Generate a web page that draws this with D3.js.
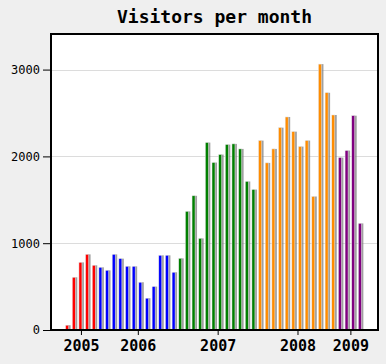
<!DOCTYPE html>
<html>
<head>
<meta charset="utf-8">
<script src="https://cdn.jsdelivr.net/npm/d3@7"></script>
<style>
  body { margin: 0; background: #efefef; }
  .axis text { font-family: "DejaVu Sans Mono", monospace; fill: #000; }
  .axis path { display: none; }
  .chart-title { font-family: "DejaVu Sans Mono", monospace; font-weight: bold; font-size: 18px; }
</style>
</head>
<body>
<svg id="chart"></svg>
<script>
// monthly visitor counts, one bar each
const visitors = [
  55, 607, 779, 871, 745,
  722, 687, 871, 822, 733, 733, 550, 366, 500, 860, 860, 665,
  825, 1366, 1546, 1055, 2159, 1929, 2021, 2136, 2144, 2086, 1711, 1618,
  2182, 1925, 2086, 2331, 2454, 2285, 2113, 2182, 1538, 3063, 2733, 2477,
  1986, 2067, 2469, 1228
];
// colour groups (number of bars in each)
const groupSizes = [5, 12, 12, 12, 4];
const groupColors = ["#ff0000", "#0000ff", "#008000", "#ff8c00", "#800080"];
// year ticks (position in bar index units) and labels
const yearTickPos = [2, 10.55, 22.55, 34.55, 42.5];
const yearLabels = ["2005", "2006", "2007", "2008", "2009"];
const yTicks = [0, 1000, 2000, 3000];

const width = 386, height = 364;
const margin = {top: 34, right: 8, bottom: 34, left: 51};
const innerW = width - margin.left - margin.right;
const innerH = height - margin.top - margin.bottom;

const data = [];
let idx = 0;
groupSizes.forEach((n, g) => {
  for (let k = 0; k < n; k++) {
    data.push({i: idx, value: visitors[idx], color: groupColors[g]});
    idx++;
  }
});

const svg = d3.select("#chart").attr("width", width).attr("height", height);

svg.append("text")
  .attr("class", "chart-title")
  .attr("x", margin.left + innerW / 2)
  .attr("y", 23)
  .attr("text-anchor", "middle")
  .text("Visitors per month");

const chart = svg.append("g")
  .attr("transform", `translate(${margin.left},${margin.top})`);

chart.append("rect")
  .attr("width", innerW).attr("height", innerH)
  .attr("fill", "#fff");

const x = d3.scaleLinear().domain([-2.5, 46.5]).range([0, 326]);
const y = d3.scaleLinear().domain([0, 3410]).range([innerH, 0]);
const barW = 4;

// gridlines
chart.selectAll(".grid")
  .data(yTicks.filter(d => d > 0))
  .join("line")
  .attr("class", "grid")
  .attr("x1", 0).attr("x2", innerW)
  .attr("y1", d => Math.round(y(d)) + 0.5).attr("y2", d => Math.round(y(d)) + 0.5)
  .attr("stroke", "#dcdcdc");

// bar shadows
chart.selectAll(".shadow")
  .data(data)
  .join("rect")
  .attr("class", "shadow")
  .attr("x", d => x(d.i) - barW / 2 + 1)
  .attr("y", d => y(d.value))
  .attr("width", barW)
  .attr("height", d => innerH - y(d.value))
  .attr("fill", "#777")
  .attr("opacity", 0.7);

chart.selectAll(".bar")
  .data(data)
  .join("rect")
  .attr("class", "bar")
  .attr("x", d => x(d.i) - barW / 2)
  .attr("y", d => y(d.value))
  .attr("width", barW - 1)
  .attr("height", d => innerH - y(d.value))
  .attr("fill", d => d.color)
  .attr("stroke", "#e6e6e6")
  .attr("stroke-width", 0.5);

// axes
const yAxis = d3.axisLeft(y).tickValues(yTicks).tickFormat(d3.format("d"))
  .tickSize(8).tickPadding(3);
const xAxis = d3.axisBottom(x).tickValues(yearTickPos)
  .tickFormat((d, i) => yearLabels[i]).tickSize(5).tickPadding(5);

chart.append("g").attr("class", "axis y-axis").call(yAxis)
  .selectAll("text").style("font-size", "12px");

chart.append("g").attr("class", "axis x-axis")
  .attr("transform", `translate(0,${innerH})`)
  .call(xAxis)
  .selectAll("text").style("font-size", "15px").style("font-weight", "bold");

chart.selectAll(".axis .tick line").attr("stroke", "#000");

// frame
chart.append("rect")
  .attr("x", 0).attr("y", 0)
  .attr("width", innerW).attr("height", innerH)
  .attr("fill", "none")
  .attr("stroke", "#000")
  .attr("stroke-width", 2);
</script>
</body>
</html>
